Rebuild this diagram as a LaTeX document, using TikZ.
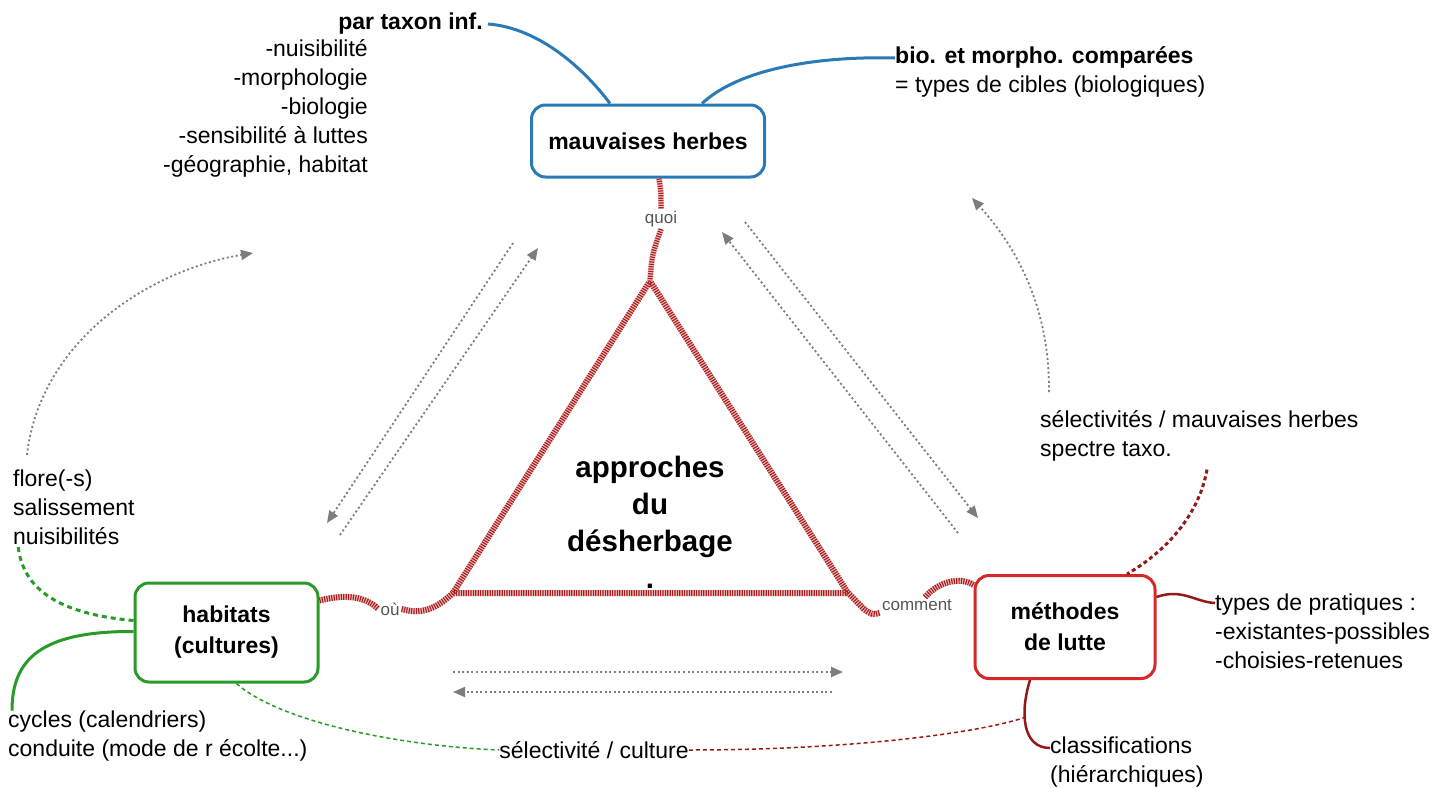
\documentclass[tikz,border=0pt]{standalone}
\usepackage{fontspec}
\setmainfont{Liberation Sans}
\usetikzlibrary{arrows.meta}
\definecolor{mhblue}{RGB}{42,122,184}
\definecolor{habgreen}{RGB}{40,155,40}
\definecolor{metred}{RGB}{214,40,40}
\definecolor{darkred}{RGB}{150,25,25}
\definecolor{hatchred}{RGB}{170,30,30}
\definecolor{hatchpink}{RGB}{238,195,195}
\definecolor{arrowgray}{RGB}{125,125,125}
\definecolor{labelgray}{RGB}{85,85,85}
\begin{document}
\begin{tikzpicture}[x=1pt,y=-1pt,
  box/.style={draw, rounded corners=14pt, line width=3pt, fill=white, align=center, inner sep=0pt,
    font=\bfseries\fontsize{23}{31}\selectfont},
  txt/.style={font=\fontsize{23}{29}\selectfont, inner sep=0pt, text=black},
  txtb/.style={font=\bfseries\fontsize{23}{29}\selectfont, inner sep=0pt, text=black},
  lbl/.style={font=\fontsize{17}{19}\selectfont, text=labelgray, inner sep=2pt},
  hatch/.style={line width=6pt, draw=hatchred, dash pattern=on 1.2pt off 1.2pt,
    preaction={draw=hatchpink, solid, line width=6pt}},
  garrow/.style={draw=arrowgray, line width=1.8pt, dash pattern=on 2pt off 2.6pt,
    -{Triangle[length=12pt,width=10pt]}},
  blueline/.style={draw=mhblue, line width=3pt},
  redline/.style={draw=darkred, line width=2.5pt},
  reddash/.style={draw=darkred, line width=1.5pt, dash pattern=on 4pt off 3pt},
  reddots/.style={draw=darkred, line width=3pt, dash pattern=on 4pt off 3pt},
  greenline/.style={draw=habgreen, line width=3pt},
  greendash/.style={draw=habgreen, line width=1.5pt, dash pattern=on 4pt off 3pt},
  greenthick/.style={draw=habgreen, line width=3pt, dash pattern=on 5pt off 4pt}
]
\fill[white] (0,0) rectangle (1437,787);
\useasboundingbox (0,0) rectangle (1437,787);

% main boxes
\node[box, draw=mhblue, minimum width=233pt, minimum height=72pt] (mh) at (648,141) {mauvaises herbes};
\node[box, draw=habgreen, minimum width=183pt, minimum height=99pt] (hab) at (226.5,632.5) {habitats\\(cultures)};
\node[box, draw=metred, minimum width=180pt, minimum height=103pt] (met) at (1065,627) {méthodes\\de lutte};

% texts
\node[txtb, anchor=east] (taxon) at (483,24) {par taxon inf.};
\node[txt, align=right, anchor=east] (taxlist) at (368,108) {-nuisibilité\\-morphologie\\-biologie\\-sensibilité à luttes\\-géographie, habitat};
\node[txt, align=left, anchor=west] (bio) at (895,72) {\textbf{bio. et morpho. comparées}\\= types de cibles (biologiques)};
\node[txt, align=left, anchor=west] (selmh) at (1040,436) {sélectivités / mauvaises herbes\\spectre taxo.};
\node[txt, align=left, anchor=west] (types) at (1215,631) {types de pratiques :\\-existantes-possibles\\-choisies-retenues};
\node[txt, align=left, anchor=west] (classif) at (1050,762) {classifications\\(hiérarchiques)};
\node[txt] (selcult) at (594,750) {sélectivité / culture};
\node[txt, align=left, anchor=west] (flore) at (13,507) {flore(-s)\\salissement\\nuisibilités};
\node[txt, align=left, anchor=west] (cycles) at (8,736) {cycles (calendriers)\\conduite (mode de r écolte...)};

% centre
\coordinate (A) at (650,281);
\coordinate (L) at (453,593);
\coordinate (R) at (848,593);
\draw[hatch] (A) -- (L) -- (R) -- cycle;
\node[font=\bfseries\fontsize{29.5}{37}\selectfont, align=center, inner sep=0pt] (app) at (650,522) {approches\\du\\désherbage\\.};

% labels on hatched links
\node[lbl] (quoi) at (661,219) {quoi};
\node[lbl] (ou) at (390,609) {où};
\node[lbl] (comment) at (917,605) {comment};

\draw[hatch, line width=5pt, preaction={draw=hatchpink, solid, line width=5pt}] ([xshift=11pt]mh.south) .. controls (661,192) .. (quoi.north);
\draw[hatch, line width=5pt, preaction={draw=hatchpink, solid, line width=5pt}] (quoi.south) .. controls (652,255) .. (A);
\draw[hatch] ([yshift=32pt]hab.east) .. controls (345,594) and (365,596) .. (ou.west);
\draw[hatch] (ou.east) .. controls (425,616) and (440,605) .. (L);
\draw[hatch] (R) .. controls (862,606) and (868,618) .. (comment.south west);
\draw[hatch] ([xshift=8pt]comment.north) .. controls (938,582) and (960,576) .. ([yshift=42pt]met.west);

% blue connectors
\draw[blueline] ([xshift=5pt]taxon.east) .. controls (540,28) and (585,70) .. ([xshift=-38pt]mh.north);
\draw[blueline] ([xshift=54pt]mh.north) .. controls (740,68) and (820,56) .. ([yshift=14pt]bio.west);

% red connectors
\draw[reddots] ([xshift=167pt,yshift=-8pt]selmh.south west) .. controls (1198,520) and (1160,555) .. ([xshift=62pt]met.north);
\draw[redline] ([yshift=30pt]met.east) .. controls (1182,588) and (1195,602) .. ([yshift=28pt]types.west);
\draw[redline] ([xshift=-35pt]met.south) .. controls (1020,712) and (1022,748) .. ([yshift=14pt]classif.west);
\coordinate (cm) at (1026,717);
\draw[reddash] (selcult.east) .. controls (850,750) and (980,733) .. (cm);

% green connectors
\draw[greendash] ([xshift=10pt]hab.south) .. controls (280,722) and (400,746) .. (selcult.west);
\draw[greenthick] ([yshift=12pt]hab.west) .. controls (60,614) and (22,590) .. ([xshift=5pt]flore.south west);
\draw[greenline] ([yshift=1pt]hab.west) .. controls (40,631) and (12,660) .. ([xshift=4pt]cycles.north west);

% gray dotted arrows
\coordinate (g1s) at (513,243); \coordinate (g1e) at (327,523);
\coordinate (g2s) at (340,535); \coordinate (g2e) at (538,248);
\coordinate (g3s) at (958,533); \coordinate (g3e) at (722,232);
\coordinate (g4s) at (745,222); \coordinate (g4e) at (978,518);
\coordinate (g5s) at (453,672); \coordinate (g5e) at (843,672);
\coordinate (g6s) at (832,692); \coordinate (g6e) at (453,692);
\coordinate (g7s) at (27,455);  \coordinate (g7e) at (253,253);
\coordinate (g8s) at (1049,392); \coordinate (g8e) at (972,198);
\draw[garrow] (g1s) -- (g1e);
\draw[garrow] (g2s) -- (g2e);
\draw[garrow] (g3s) -- (g3e);
\draw[garrow] (g4s) -- (g4e);
\draw[garrow] (g5s) -- (g5e);
\draw[garrow] (g6s) -- (g6e);
\draw[garrow] (g7s) .. controls (40,340) and (150,270) .. (g7e);
\draw[garrow] (g8s) .. controls (1050,300) and (1010,240) .. (g8e);
\end{tikzpicture}
\end{document}
